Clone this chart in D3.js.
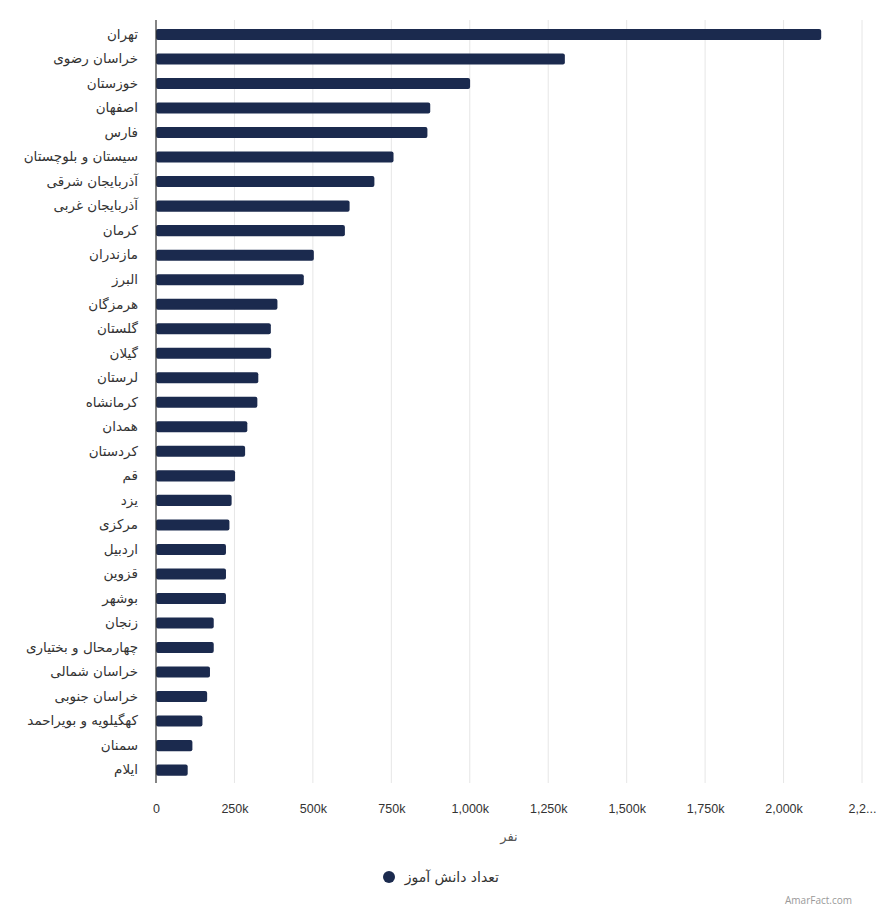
<!DOCTYPE html>
<html>
<head>
<meta charset="utf-8">
<script src="https://cdn.jsdelivr.net/npm/d3@7"></script>
<style>
  body { margin: 0; background: #fff; }
  svg { display: block; font-family: "Open Sans", "DejaVu Sans", sans-serif; }
</style>
</head>
<body>
<div id="chart"></div>
<script>
const provinces = [
  "تهران", "خراسان رضوی", "خوزستان", "اصفهان", "فارس", "سیستان و بلوچستان",
  "آذربایجان شرقی", "آذربایجان غربی", "کرمان", "مازندران", "البرز", "هرمزگان",
  "گلستان", "گیلان", "لرستان", "کرمانشاه", "همدان", "کردستان", "قم", "یزد",
  "مرکزی", "اردبیل", "قزوین", "بوشهر", "زنجان", "چهارمحال و بختیاری",
  "خراسان شمالی", "خراسان جنوبی", "کهگیلویه و بویراحمد", "سمنان", "ایلام"
];
// students, thousands
const students = [
  2120, 1303, 1001, 874, 865, 757,
  696, 617, 602, 503, 471, 387,
  366, 367, 326, 323, 291, 284, 252, 241,
  234, 223, 223, 223, 184, 184,
  172, 163, 148, 116, 101
];
const ticks = [0, 250, 500, 750, 1000, 1250, 1500, 1750, 2000, 2250];
const seriesName = "تعداد دانش آموز";
const axisTitle = "نفر";

const width = 879, height = 917;
const plotTop = 20, plotBottom = 783;
const barColor = "#1b2a4e";

const svg = d3.select("#chart").append("svg")
  .attr("width", width)
  .attr("height", height);

const x = d3.scaleLinear()
  .domain([0, 2250])
  .range([156, 862]);

// centers of the bands sit at 34.5 ... 770
const y = d3.scaleBand()
  .domain(provinces)
  .range([22.2, 782.4])
  .paddingInner(0.55)
  .paddingOuter(0.275);

// grid
svg.append("g")
  .selectAll("line")
  .data(ticks.slice(1))
  .join("line")
  .attr("x1", d => x(d)).attr("x2", d => x(d))
  .attr("y1", plotTop).attr("y2", plotBottom)
  .attr("stroke", "#e6e6e6")
  .attr("stroke-width", 1);

// bars
svg.append("g")
  .selectAll("rect")
  .data(provinces)
  .join("rect")
  .attr("x", x(0))
  .attr("y", d => y(d))
  .attr("width", (d, i) => x(students[i]) - x(0))
  .attr("height", y.bandwidth())
  .attr("rx", 2)
  .attr("fill", barColor);

// y axis
const yAxis = svg.append("g")
  .attr("transform", `translate(${x(0)},0)`)
  .call(d3.axisLeft(y).tickSize(0).tickPadding(18));
yAxis.select(".domain").remove();
svg.append("line")
  .attr("x1", x(0)).attr("x2", x(0))
  .attr("y1", plotTop).attr("y2", plotBottom)
  .attr("stroke", "#333")
  .attr("stroke-width", 1.2);
yAxis.selectAll("text")
  .attr("fill", "#333")
  .style("font-size", "13.5px")
  .style("font-family", "'DejaVu Sans', sans-serif");

// x axis
const xAxis = svg.append("g")
  .attr("transform", `translate(0,${plotBottom})`)
  .call(d3.axisBottom(x)
    .tickValues(ticks)
    .tickSize(0)
    .tickPadding(21)
    .tickFormat(d => d === 2250 ? "2,2..." : (d === 0 ? "0" : d3.format(",")(d) + "k")));
xAxis.select(".domain").remove();
xAxis.selectAll("text")
  .attr("fill", "#333")
  .style("font-size", "12.5px");

svg.append("text")
  .attr("x", (x(0) + x(2250)) / 2)
  .attr("y", 841)
  .attr("text-anchor", "middle")
  .attr("fill", "#555")
  .style("font-family", "'DejaVu Sans', sans-serif")
  .style("font-size", "13px")
  .text(axisTitle);

// legend
const legend = svg.append("g").attr("transform", "translate(389,877)");
legend.append("circle").attr("r", 6).attr("fill", barColor);
legend.append("text")
  .attr("x", 110)
  .attr("y", 5)
  .attr("text-anchor", "end")
  .attr("fill", "#333")
  .style("font-family", "'DejaVu Sans', sans-serif")
  .style("font-size", "14px")
  .text(seriesName);

svg.append("text")
  .attr("x", 852)
  .attr("y", 904)
  .attr("text-anchor", "end")
  .attr("fill", "#999")
  .style("font-size", "10px")
  .text("AmarFact.com");
</script>
</body>
</html>
